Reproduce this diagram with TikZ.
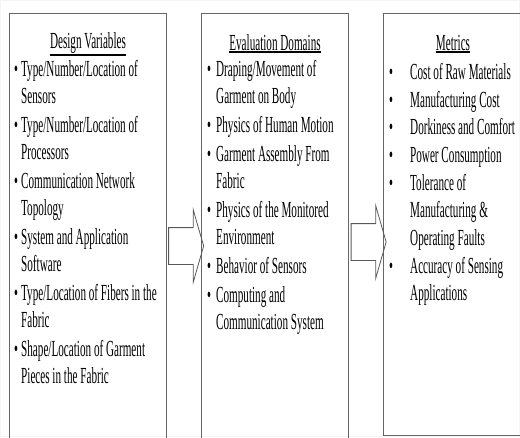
\documentclass[tikz,border=0pt]{standalone}
\usepackage{fontspec}
\setmainfont[FakeStretch=0.485]{Liberation Serif}
\usetikzlibrary{shapes.arrows}

\newcommand{\bul}[1]{\makebox[#1][l]{\textbullet}}

\tikzset{
  panel/.style={draw=black!60, line width=0.9pt, anchor=north west, inner sep=0pt},
  heading/.style={inner sep=0pt, font=\fontsize{23}{27}\selectfont},
  itemlist/.style={anchor=north west, align=left, inner sep=0pt, font=\fontsize{23}{27}\selectfont},
  blockarrow/.style={single arrow, draw=black!65, line width=0.8pt, inner xsep=0pt,
    inner ysep=18pt, minimum height=35pt, single arrow head extend=18pt,
    single arrow head indent=0pt, single arrow tip angle=148}
}

\begin{document}
\begin{tikzpicture}[x=1pt,y=1pt]
\useasboundingbox (0,0) rectangle (520,-437);
\draw[white!96!black, line width=0.5pt] (0.5,-0.5) rectangle (519.5,-436.5);

% the three panels
\node(dv)[panel, minimum width=157pt, minimum height=440pt] at (9,-13) {};
\node(ed)[panel, minimum width=147pt, minimum height=440pt] at (201,-13) {};
\node(mt)[panel, minimum width=140pt, minimum height=422pt] at (383,-13) {};

% headings
\node(dvh)[heading] at (88,-42.5) {Design Variables};
\node(edh)[heading] at (275,-42.5) {Evaluation Domains};
\node(mth)[heading] at (453,-42.5) {Metrics};
\foreach \h in {dvh,edh,mth}
  \draw[line width=1.8pt] ([yshift=-1.5pt]\h.south west) -- ([yshift=-1.5pt]\h.south east);

% lists
\node(dvl)[itemlist] at (14,-60) {
\bul{7pt}Type/Number/Location of\\
\hspace*{7pt}Sensors\\[2pt]
\bul{7pt}Type/Number/Location of\\
\hspace*{7pt}Processors\\[2pt]
\bul{7pt}Communication Network\\
\hspace*{7pt}Topology\\[2pt]
\bul{7pt}System and Application\\
\hspace*{7pt}Software\\[2pt]
\bul{7pt}Type/Location of Fibers in the\\
\hspace*{7pt}Fabric\\[2pt]
\bul{7pt}Shape/Location of Garment\\
\hspace*{7pt}Pieces in the Fabric};

\node(edl)[itemlist] at (207,-60) {
\bul{9pt}Draping/Movement of\\
\hspace*{9pt}Garment on Body\\[2pt]
\bul{9pt}Physics of Human Motion\\[2pt]
\bul{9pt}Garment Assembly From\\
\hspace*{9pt}Fabric\\[2pt]
\bul{9pt}Physics of the Monitored\\
\hspace*{9pt}Environment\\[2pt]
\bul{9pt}Behavior of Sensors\\[2pt]
\bul{9pt}Computing and\\
\hspace*{9pt}Communication System};

\node(mtl)[itemlist, font=\fontsize{23}{27.7}\selectfont] at (389,-63) {
\bul{21pt}Cost of Raw Materials\\
\bul{21pt}Manufacturing Cost\\
\bul{21pt}Dorkiness and Comfort\\
\bul{21pt}Power Consumption\\
\bul{21pt}Tolerance of\\
\hspace*{21pt}Manufacturing \&\\
\hspace*{21pt}Operating Faults\\
\bul{21pt}Accuracy of Sensing\\
\hspace*{21pt}Applications};

% block arrows between the panels
\node(a1)[blockarrow] at (183.5,-246) {};
\node(a2)[blockarrow] at (366,-242) {};
\end{tikzpicture}
\end{document}
